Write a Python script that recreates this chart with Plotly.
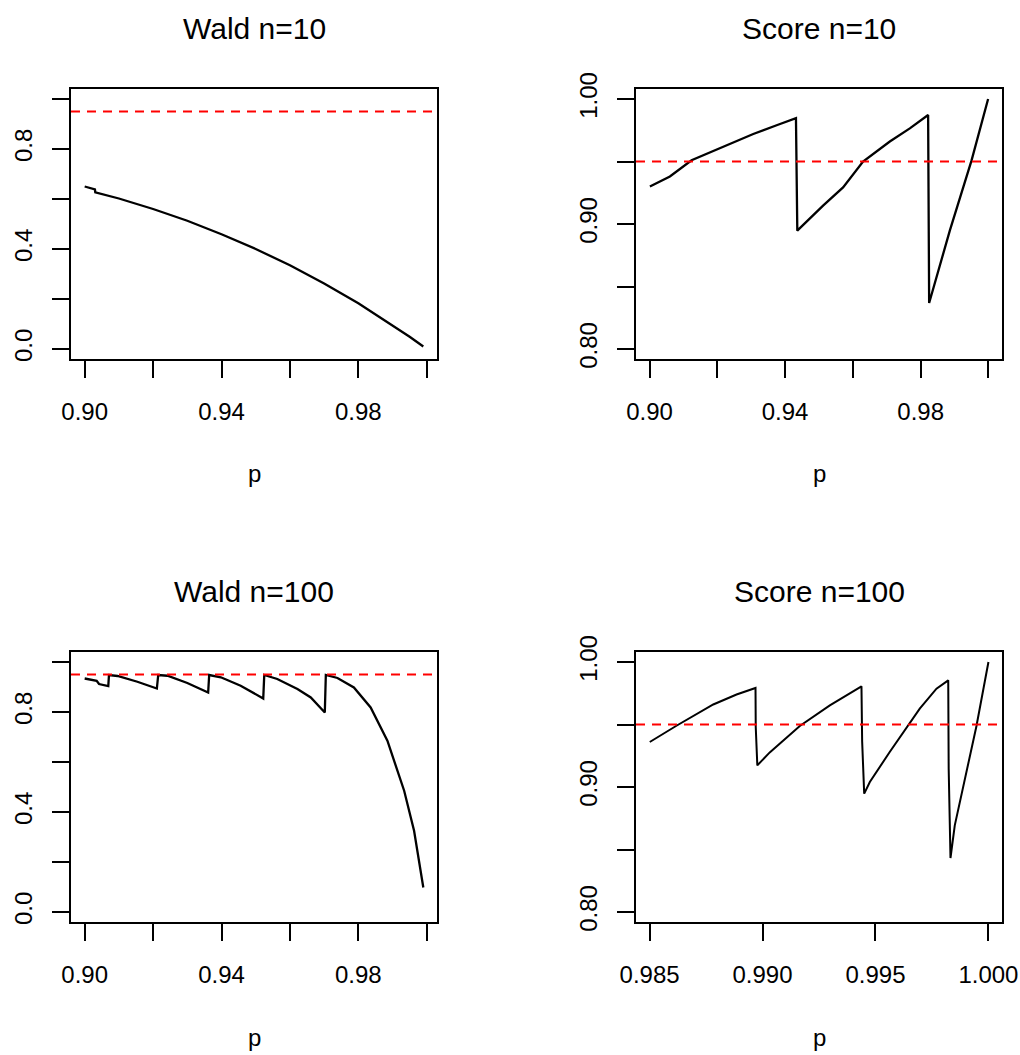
import plotly.graph_objects as go

# ---------------- data ----------------
wald10_p = [0.900, 0.903, 0.9031, 0.910, 0.920, 0.930, 0.940, 0.950, 0.960,
            0.970, 0.980, 0.990, 0.995, 0.999]
wald10_cov = [0.650, 0.638, 0.627, 0.602, 0.560, 0.513, 0.459, 0.400, 0.335,
              0.262, 0.183, 0.096, 0.049, 0.010]

score10_p = [0.9001, 0.9060, 0.9124, 0.9207, 0.9306, 0.9375, 0.9432,
             0.9436, 0.9512, 0.9571, 0.9630, 0.9709, 0.9768, 0.9822,
             0.9825, 0.9886, 0.9950, 0.9999]
score10_cov = [0.930, 0.938, 0.951, 0.9605, 0.972, 0.979, 0.9846,
               0.8947, 0.9147, 0.9293, 0.950, 0.966, 0.9765, 0.9872,
               0.8368, 0.8947, 0.9507, 1.000]

wald100_p = [0.9000, 0.9035, 0.9042, 0.9069,
             0.9071, 0.9096, 0.9154, 0.9211,
             0.9215, 0.9242, 0.9300, 0.9361,
             0.9364, 0.9398, 0.9456, 0.9522,
             0.9525, 0.9563, 0.9622, 0.9661, 0.9702,
             0.9705, 0.9739, 0.9787, 0.9836, 0.9885, 0.9934, 0.9963, 0.9990]
wald100_cov = [0.934, 0.925, 0.912, 0.904,
               0.948, 0.944, 0.921, 0.894,
               0.948, 0.945, 0.916, 0.878,
               0.948, 0.939, 0.905, 0.854,
               0.948, 0.932, 0.892, 0.858, 0.798,
               0.948, 0.936, 0.898, 0.818, 0.685, 0.485, 0.325, 0.098]

score100_p = [0.98501, 0.98619, 0.98782, 0.98885, 0.98969,
              0.98970, 0.98977,
              0.99032, 0.99165, 0.99298, 0.99438,
              0.99441, 0.99450,
              0.99475, 0.99563, 0.99645, 0.99696, 0.99770, 0.99822,
              0.99824, 0.99832,
              0.99851, 0.99947, 1.00000]
score100_cov = [0.936, 0.949, 0.966, 0.974, 0.9792,
                0.948, 0.9173,
                0.9277, 0.9488, 0.9653, 0.9805,
                0.9365, 0.8947,
                0.904, 0.928, 0.9488, 0.9627, 0.9787, 0.9853,
                0.9147, 0.8432,
                0.8693, 0.9488, 1.000]

titles = ["Wald n=10", "Score n=10", "Wald n=100", "Score n=100"]
x_label = "p"
nominal = 0.95

x_ticks_a = [0.90, 0.92, 0.94, 0.96, 0.98, 1.00]
x_text_a = ["0.90", "", "0.94", "", "0.98", ""]
x_ticks_b = [0.985, 0.990, 0.995, 1.000]
x_text_b = ["0.985", "0.990", "0.995", "1.000"]
y_ticks_w = [0.0, 0.2, 0.4, 0.6, 0.8, 1.0]
y_text_w = ["0.0", "", "0.4", "", "0.8", ""]
y_ticks_s = [0.80, 0.85, 0.90, 0.95, 1.00]
y_text_s = ["0.80", "", "0.90", "", "1.00"]

# ---------------- layout geometry ----------------
W, H = 1020, 1055
FONT = "Liberation Sans, Arial, sans-serif"
TICK_SIZE = 24
TITLE_SIZE = 30

col_px = [(71, 437), (636, 1002)]
row_px = [(89, 359), (652, 922)]


def xdom(c):
    return [col_px[c][0] / W, col_px[c][1] / W]


def ydom(r):
    return [1 - row_px[r][1] / H, 1 - row_px[r][0] / H]


common = dict(
    ticks="outside", ticklen=17, tickwidth=2, tickcolor="black",
    showline=True, linewidth=2, linecolor="black", mirror=True,
    showgrid=False, zeroline=False, automargin=False,
    tickfont=dict(size=TICK_SIZE, family=FONT, color="black"),
)

panels = [
    dict(p=wald10_p, c=wald10_cov, col=0, row=0, xr=[0.896, 1.003], yr=[-0.04, 1.04],
         xt=(x_ticks_a, x_text_a), yt=(y_ticks_w, y_text_w), lw=2.3),
    dict(p=score10_p, c=score10_cov, col=1, row=0, xr=[0.896, 1.004], yr=[0.792, 1.008],
         xt=(x_ticks_a, x_text_a), yt=(y_ticks_s, y_text_s), lw=2.3),
    dict(p=wald100_p, c=wald100_cov, col=0, row=1, xr=[0.896, 1.003], yr=[-0.04, 1.04],
         xt=(x_ticks_a, x_text_a), yt=(y_ticks_w, y_text_w), lw=2.3),
    dict(p=score100_p, c=score100_cov, col=1, row=1, xr=[0.9844, 1.0006], yr=[0.792, 1.008],
         xt=(x_ticks_b, x_text_b), yt=(y_ticks_s, y_text_s), lw=2.0),
]

fig = go.Figure()
layout = dict(
    template="none",
    width=W, height=H, margin=dict(l=0, r=0, t=0, b=0, pad=0),
    paper_bgcolor="white", plot_bgcolor="white", showlegend=False,
    font=dict(family=FONT, color="black"),
)
annotations = []
shapes = []

title_y = [28, 591]
label_y = [473, 1037]

for i, pn in enumerate(panels, start=1):
    xa = "xaxis" if i == 1 else f"xaxis{i}"
    ya = "yaxis" if i == 1 else f"yaxis{i}"
    xref = "x" if i == 1 else f"x{i}"
    yref = "y" if i == 1 else f"y{i}"
    layout[xa] = dict(common, domain=xdom(pn["col"]), range=pn["xr"], anchor=yref,
                      tickvals=pn["xt"][0], ticktext=pn["xt"][1], ticklabelstandoff=13)
    layout[ya] = dict(common, domain=ydom(pn["row"]), range=pn["yr"], anchor=xref,
                      tickvals=pn["yt"][0], ticktext=pn["yt"][1], tickangle=-90,
                      ticklabelstandoff=10)
    fig.add_trace(go.Scatter(x=pn["p"], y=pn["c"], mode="lines", xaxis=xref, yaxis=yref,
                             line=dict(color="black", width=pn["lw"]), hoverinfo="skip"))
    shapes.append(dict(type="line", xref=f"{xref} domain", yref=yref, x0=0, x1=1,
                       y0=nominal, y1=nominal,
                       line=dict(color="#FF0000", width=2, dash="9px,7px")))
    cx = (col_px[pn["col"]][0] + col_px[pn["col"]][1]) / 2 / W
    annotations.append(dict(text=titles[i - 1], x=cx, y=1 - title_y[pn["row"]] / H,
                            xref="paper", yref="paper", showarrow=False,
                            xanchor="center", yanchor="middle",
                            font=dict(size=TITLE_SIZE, family=FONT, color="black")))
    annotations.append(dict(text=x_label, x=cx, y=1 - label_y[pn["row"]] / H,
                            xref="paper", yref="paper", showarrow=False,
                            xanchor="center", yanchor="middle",
                            font=dict(size=TICK_SIZE, family=FONT, color="black")))

layout["annotations"] = annotations
layout["shapes"] = shapes
fig.update_layout(**layout)
# remove the browser's default 8px body margin so the figure fills the window exactly
fig.write_html("out.html",
               config={"displayModeBar": False, "staticPlot": True},
               post_script="document.body.style.margin='0px';"
                           "document.body.style.overflow='hidden';")
